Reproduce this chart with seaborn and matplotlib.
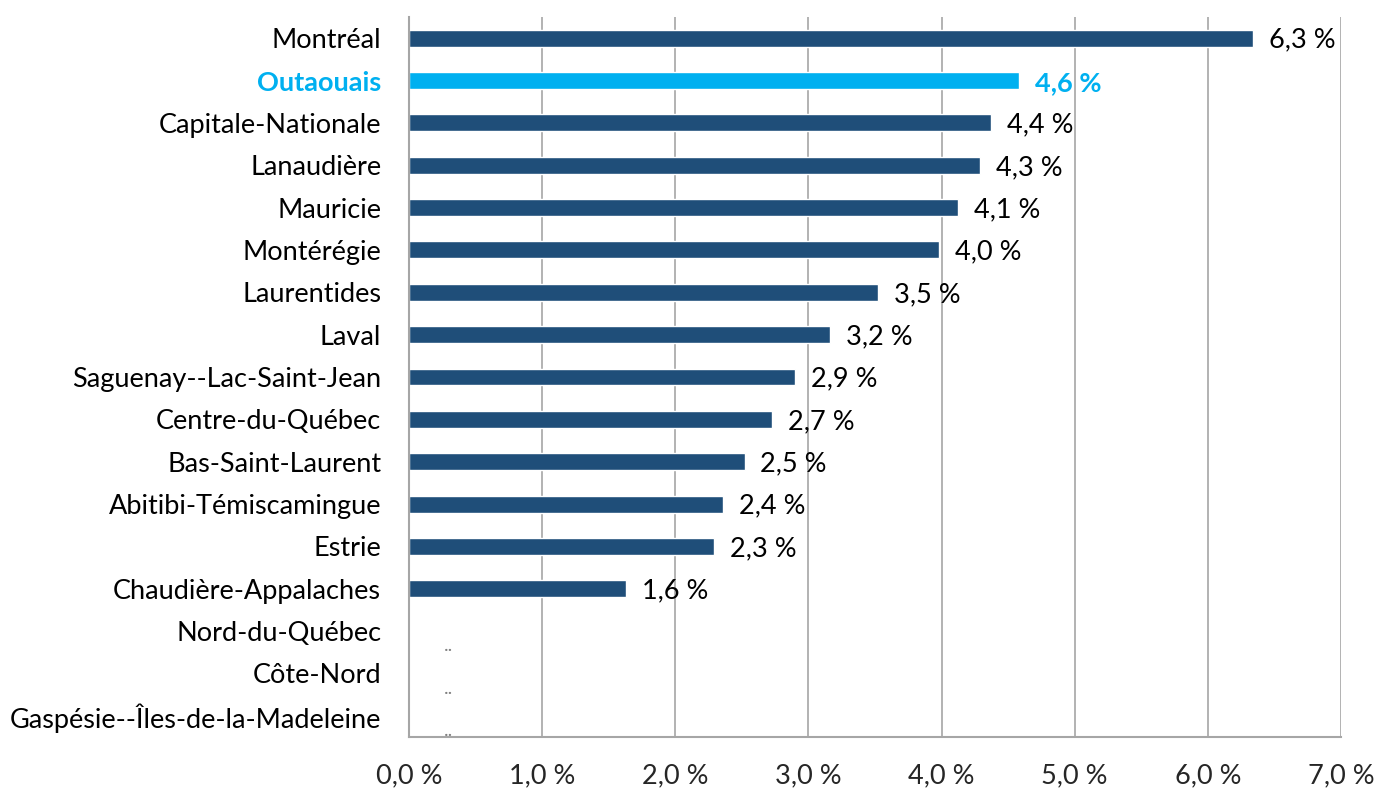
import matplotlib
matplotlib.use("Agg")
import matplotlib.pyplot as plt
import seaborn as sns
import numpy as np
import pandas as pd

regions = ["Montréal", "Outaouais", "Capitale-Nationale", "Lanaudière", "Mauricie",
           "Montérégie", "Laurentides", "Laval", "Saguenay--Lac-Saint-Jean",
           "Centre-du-Québec", "Bas-Saint-Laurent", "Abitibi-Témiscamingue", "Estrie",
           "Chaudière-Appalaches", "Nord-du-Québec", "Côte-Nord",
           "Gaspésie--Îles-de-la-Madeleine"]
values = [6.34, 4.58, 4.37, 4.29, 4.12, 3.98, 3.52, 3.16, 2.90, 2.73, 2.52, 2.36, 2.29,
          1.63, np.nan, np.nan, np.nan]
highlight = "Outaouais"
xticks = [0, 1, 2, 3, 4, 5, 6, 7]

DARK = "#1F4E79"
LIGHT = "#00B0F0"
GRID = "#A6A6A6"
FS = 19.5

sns.set_style("white")
plt.rcParams['font.family'] = ['Lato', 'DejaVu Sans']

df = pd.DataFrame({"region": regions, "value": values})
palette = {r: (LIGHT if r == highlight else DARK) for r in regions}

fig = plt.figure(figsize=(13.93, 7.89), dpi=100)
ax = fig.add_axes([409/1393, 1 - 737/789, (1341 - 409)/1393, (737 - 17)/789])

sns.barplot(data=df, y="region", x="value", hue="region", palette=palette,
            orient="h", width=0.4, legend=False, ax=ax, saturation=1)

ax.set_xlim(0, 7)
ax.set_ylim(len(regions) - 0.5, -0.5)
ax.set_xticks(xticks)
ax.set_xticklabels([f"{v:.1f}".replace(".", ",") + " %" for v in xticks], fontsize=FS)
ax.set_xlabel("")
ax.set_ylabel("")
ax.set_axisbelow(True)
ax.grid(axis="x", color=GRID, linewidth=1.2)
ax.grid(axis="y", visible=False)

for s in ["top", "right"]:
    ax.spines[s].set_visible(False)
for s in ["left", "bottom"]:
    ax.spines[s].set_color(GRID)
    ax.spines[s].set_linewidth(1.5)

ax.tick_params(axis="x", which="major", direction="out", length=9, color=GRID,
               width=1.2, pad=10, labelsize=FS)
ax.set_yticks(range(len(regions)))
ax.set_yticks(np.arange(-0.5, len(regions), 1), minor=True)
ax.tick_params(axis="y", which="major", length=0, pad=20, labelsize=FS)
ax.tick_params(axis="y", which="minor", direction="out", length=9, color=GRID, width=1.2)

for lbl in ax.get_yticklabels():
    if lbl.get_text() == highlight:
        lbl.set_color(LIGHT)
        lbl.set_fontweight("bold")
    else:
        lbl.set_color("black")

for i, (r, v) in enumerate(zip(regions, values)):
    if np.isnan(v):
        ax.text(0.3, i + 0.55, "..", color="#808080", fontsize=14, ha="center", va="bottom")
    else:
        txt = f"{v:.1f}".replace(".", ",") + " %"
        if r == highlight:
            ax.text(v + 0.12, i + 0.05, txt, color=LIGHT, fontweight="bold", fontsize=FS,
                    ha="left", va="center")
        else:
            ax.text(v + 0.12, i + 0.05, txt, color="black", fontsize=FS,
                    ha="left", va="center")

fig.savefig("out.png", dpi=100)
